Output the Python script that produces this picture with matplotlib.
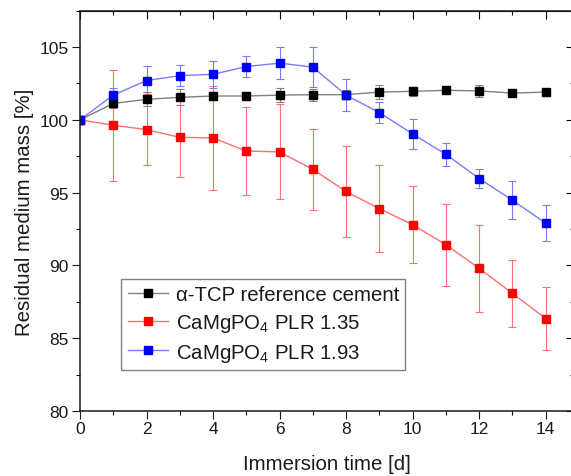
import matplotlib
matplotlib.use("Agg")
import matplotlib.pyplot as plt
from matplotlib.ticker import MultipleLocator
from matplotlib.lines import Line2D

plt.rcParams['font.family'] = ['Liberation Sans', 'DejaVu Sans']
plt.rcParams['mathtext.default'] = 'regular'

days = [0, 1, 2, 3, 4, 5, 6, 7, 8, 9, 10, 11, 12, 13, 14]

tcp_mean = [100.0, 101.13, 101.41, 101.55, 101.64, 101.64, 101.70, 101.73, 101.73,
            101.91, 101.96, 102.03, 101.99, 101.84, 101.91]
tcp_err = [0.0, 0.3, 0.48, 0.55, 0.3, 0.25, 0.46, 0.4, 0.3, 0.5, 0.3, 0.2, 0.44, 0.2, 0.2]

plr135_mean = [100.0, 99.63, 99.33, 98.80, 98.76, 97.86, 97.80, 96.60, 95.08,
               93.90, 92.80, 91.42, 89.80, 88.08, 86.35]
plr135_err = [0.0, 3.8, 2.44, 2.7, 3.6, 3.04, 3.27, 2.76, 3.13, 2.99, 2.65, 2.81, 3.0, 2.29, 2.17]

plr193_mean = [100.0, 101.70, 102.70, 103.04, 103.13, 103.66, 103.90, 103.62, 101.70,
               100.50, 99.03, 97.63, 95.97, 94.48, 92.90]
plr193_err = [0.0, 0.5, 1.0, 0.7, 0.92, 0.7, 1.1, 1.38, 1.08, 0.71, 1.0, 0.8, 0.65, 1.3, 1.24]

labels = ['α-TCP reference cement', 'CaMgPO$_4$ PLR 1.35', 'CaMgPO$_4$ PLR 1.93']
x_ticks = [0, 2, 4, 6, 8, 10, 12, 14]
y_ticks = [80, 85, 90, 95, 100, 105]

fig = plt.figure(figsize=(5.71, 4.77), dpi=100)
ax = fig.add_axes([80/571, 65/477, 494/571, 400.3/477])

series = [
    (tcp_mean, tcp_err, '#000000', '#808080'),
    (plr135_mean, plr135_err, '#ff0000', '#ff7070'),
    (plr193_mean, plr193_err, '#0000ff', '#7a7aff'),
]
handles = []
for (m, e, mc, lc), lab in zip(series, labels):
    ax.errorbar(days, m, yerr=e, color=lc, lw=1.0, elinewidth=0.8, capsize=3.2,
                capthick=0.8, marker='s', markersize=6.2, markerfacecolor=mc,
                markeredgecolor=mc)
    handles.append(Line2D([], [], color=lc, lw=1.0, marker='s', markersize=6.2,
                          markerfacecolor=mc, markeredgecolor=mc, label=lab))

ax.set_xlim(0, 14.85)
ax.set_ylim(80, 107.5)
ax.set_xticks(x_ticks)
ax.set_yticks(y_ticks)
ax.xaxis.set_minor_locator(MultipleLocator(1))
ax.yaxis.set_minor_locator(MultipleLocator(2.5))
ax.tick_params(axis='both', which='major', direction='out', length=5.8, width=0.8,
               labelsize=12.5, colors='#1a1a1a')
ax.tick_params(axis='both', which='minor', direction='out', length=3, width=0.8)
ax.tick_params(axis='x', which='major', pad=1.5)
ax.tick_params(axis='y', which='major', pad=2.5)
for sp in ax.spines.values():
    sp.set_linewidth(1.1)
    sp.set_color('#1a1a1a')

top = ax.secondary_xaxis('top')
top.set_xticks(x_ticks)
top.xaxis.set_minor_locator(MultipleLocator(1))
top.tick_params(which='major', direction='in', length=5.5, width=0.8, labeltop=False)
top.tick_params(which='minor', direction='in', length=2.6, width=0.8)
right = ax.secondary_yaxis('right')
right.set_yticks(y_ticks)
right.yaxis.set_minor_locator(MultipleLocator(2.5))
right.tick_params(which='major', direction='in', length=5.5, width=0.8, labelright=False)
right.tick_params(which='minor', direction='in', length=2.6, width=0.8)

ax.set_xlabel('Immersion time [d]', fontsize=14.7, labelpad=13, color='#1a1a1a')
ax.set_ylabel('Residual medium mass [%]', fontsize=14.7, labelpad=4, color='#1a1a1a')

leg = ax.legend(handles=handles, loc='upper left', bbox_to_anchor=(0.084, 0.33),
                borderaxespad=0, fontsize=14.7, frameon=True, fancybox=False,
                framealpha=1, edgecolor='#808080', handlelength=2.0,
                handletextpad=0.35, borderpad=0.3, labelspacing=0.38)
leg.get_frame().set_linewidth(1.0)
for t in leg.get_texts():
    t.set_color('#1a1a1a')

fig.savefig('out.png', dpi=100)
